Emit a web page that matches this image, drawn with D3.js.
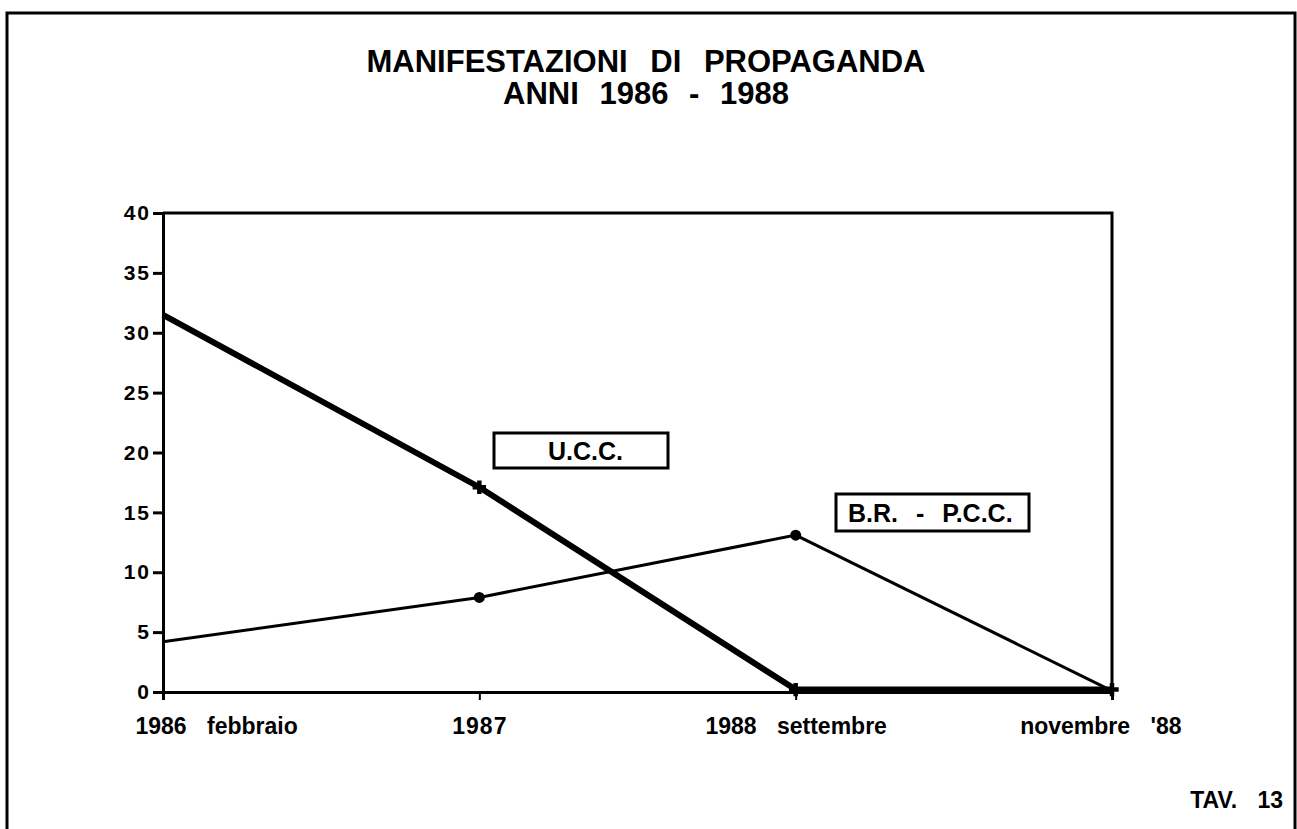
<!DOCTYPE html>
<html>
<head>
<meta charset="utf-8">
<script src="https://cdn.jsdelivr.net/npm/d3@7"></script>
<style>
  body { margin: 0; background: #fff; }
  text { font-family: "Liberation Sans", Arial, sans-serif; font-weight: bold; fill: #000; }
</style>
</head>
<body>
<div id="chart"></div>
<script>
// data
var periods = ["1986 febbraio", "1987", "1988 settembre", "novembre '88"];
var ucc = [31.5, 17.1, 0.2, 0.2];
var brpcc = [4.2, 7.9, 13.1, 0.1];
var yTicks = [0, 5, 10, 15, 20, 25, 30, 35, 40];

var W = 1297, H = 829;
var margin = {top: 213, left: 163, right: 185, bottom: 137};
var width = W - margin.left - margin.right,
    height = H - margin.top - margin.bottom;

var svg = d3.select("#chart").append("svg")
  .attr("width", W)
  .attr("height", H);

// outer frame
svg.append("rect")
  .attr("x", 7).attr("y", 13)
  .attr("width", 1288).attr("height", 840)
  .attr("fill", "none")
  .attr("stroke", "#000")
  .attr("stroke-width", 3);

// title
svg.append("text")
  .attr("x", 646).attr("y", 72)
  .attr("text-anchor", "middle")
  .style("font-size", "31px")
  .style("word-spacing", "14px")
  .text("MANIFESTAZIONI DI PROPAGANDA");
svg.append("text")
  .attr("x", 646).attr("y", 104)
  .attr("text-anchor", "middle")
  .style("font-size", "31px")
  .style("word-spacing", "12px")
  .text("ANNI 1986 - 1988");

var g = svg.append("g")
  .attr("transform", "translate(" + margin.left + "," + margin.top + ")");

var x = d3.scalePoint()
  .domain(periods)
  .range([0, width]);

var y = d3.scaleLinear()
  .domain([0, 40])
  .range([height, 0]);

// top and right border of plot
g.append("path")
  .attr("d", "M0,0H" + width + "V" + height)
  .attr("fill", "none")
  .attr("stroke", "#000")
  .attr("stroke-width", 3);

// y axis
var yAxis = g.append("g")
  .call(d3.axisLeft(y).tickValues(yTicks).tickSize(10).tickPadding(2));
yAxis.select(".domain").attr("stroke-width", 3);
yAxis.selectAll(".tick line").attr("stroke-width", 3);
yAxis.selectAll("text")
  .style("font-size", "21px")
  .style("letter-spacing", "2px")
  .attr("font-family", null);

// x axis
var xAxis = g.append("g")
  .attr("transform", "translate(0," + height + ")")
  .call(d3.axisBottom(x).tickSize(8).tickPadding(18));
xAxis.select(".domain").attr("stroke-width", 3);
xAxis.selectAll(".tick line").attr("stroke-width", 2);
xAxis.selectAll("text")
  .style("font-size", "23px")
  .style("word-spacing", "14px")
  .attr("font-family", null);
xAxis.selectAll(".tick text")
  .filter(function (d) { return d === "1987"; })
  .style("letter-spacing", "1px");
xAxis.selectAll(".tick text")
  .filter(function (d, i) { return i === 0; })
  .attr("text-anchor", "start").attr("x", -28);
xAxis.selectAll(".tick text")
  .filter(function (d, i, n) { return i === n.length - 1; })
  .attr("text-anchor", "end").attr("x", 69);

var line = d3.line()
  .x(function (d, i) { return x(periods[i]); })
  .y(function (d) { return y(d); });

// B.R. - P.C.C.
g.append("path")
  .datum(brpcc)
  .attr("d", line)
  .attr("fill", "none")
  .attr("stroke", "#000")
  .attr("stroke-width", 3);

g.selectAll(".dot")
  .data(brpcc.slice(1, 3))
  .enter().append("circle")
  .attr("cx", function (d, i) { return x(periods[i + 1]); })
  .attr("cy", function (d) { return y(d); })
  .attr("r", 5.5)
  .attr("fill", "#000");

// U.C.C.
g.append("path")
  .datum(ucc)
  .attr("d", line)
  .attr("fill", "none")
  .attr("stroke", "#000")
  .attr("stroke-width", 6);

g.selectAll(".cross")
  .data(ucc.slice(1))
  .enter().append("path")
  .attr("transform", function (d, i) {
    return "translate(" + x(periods[i + 1]) + "," + y(d) + ")";
  })
  .attr("d", d3.symbol().type(d3.symbolCross).size(100))
  .attr("fill", "#000");

// legend boxes
function labelBox(bx, by, bw, bh, label, tx) {
  svg.append("rect")
    .attr("x", bx).attr("y", by)
    .attr("width", bw).attr("height", bh)
    .attr("fill", "#fff")
    .attr("stroke", "#000")
    .attr("stroke-width", 3);
  svg.append("text")
    .attr("x", tx).attr("y", by + bh / 2 + 9)
    .style("font-size", "25px")
    .style("word-spacing", "11px")
    .text(label);
}
labelBox(494, 433, 174, 35, "U.C.C.", 548);
labelBox(836, 494, 193, 37, "B.R. - P.C.C.", 848);

svg.append("text")
  .attr("x", 1283).attr("y", 808)
  .attr("text-anchor", "end")
  .style("font-size", "23px")
  .style("word-spacing", "14px")
  .text("TAV. 13");
</script>
</body>
</html>
